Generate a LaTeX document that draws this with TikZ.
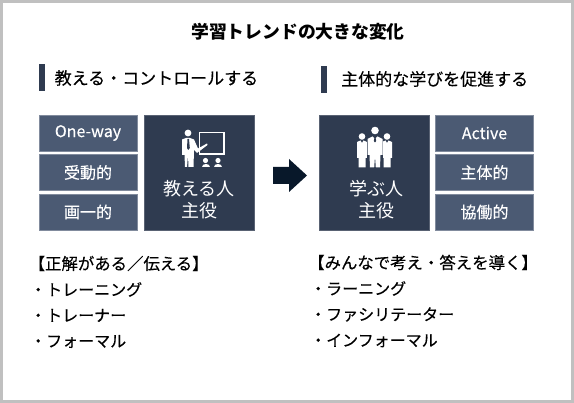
\documentclass[tikz,border=0pt]{standalone}
\usepackage{fontspec}
\setmainfont{Noto Sans CJK JP}
\newfontfamily\medfont{Noto Sans CJK JP}[FakeBold=0.3]
\usetikzlibrary{positioning}
\definecolor{DarkNavy}{RGB}{47,59,80}
\definecolor{SlateBlue}{RGB}{75,90,115}
\definecolor{ArrowNavy}{RGB}{8,24,42}
\definecolor{FrameGray}{RGB}{192,192,192}
\tikzset{
    minibox/.style={fill=SlateBlue, draw=SlateBlue!70!white, line width=0.6pt, text=white, minimum width=98pt, minimum height=36pt, inner sep=0pt, font=\medfont\fontsize{16}{19}\selectfont},
    mainbox/.style={fill=DarkNavy, draw=DarkNavy!80!white, line width=0.6pt, text=white, minimum width=110pt, minimum height=115pt, inner sep=0pt},
    maintext/.style={text=white, align=center, font=\fontsize{18}{22}\selectfont},
    headbar/.style={fill=DarkNavy, inner sep=0pt, minimum width=6pt, minimum height=27pt},
    headtext/.style={anchor=west, inner sep=0pt, font=\medfont\fontsize{17}{20}\selectfont},
    listtext/.style={anchor=west, inner sep=0pt, font=\medfont\fontsize{16}{19}\selectfont}
}
\begin{document}
\begin{tikzpicture}[x=1pt, y=-1pt]
    % Page and frame
    \useasboundingbox (0,0) rectangle (574,403);
    \fill[white] (0,0) rectangle (574,403);
    \draw[FrameGray, line width=3pt] (1.5,1.5) rectangle (572.5,401.5);

    % Title
    \node[inner sep=0pt, font=\fontsize{17.8}{21}\selectfont\bfseries] (title) at (298,32) {学習トレンドの大きな変化};

    % Left heading
    \node[headbar] (barL) at (42,78) {};
    \node[headtext] (headL) at (54.5,78) {教える・コントロールする};

    % Right heading
    \node[headbar] (barR) at (324,79.5) {};
    \node[headtext] (headR) at (341,79) {主体的な学びを促進する};

    % Left boxes
    \node[minibox] (oneway) at (88,133) {One-way};
    \node[minibox] (passive) at (88,172.5) {受動的};
    \node[minibox] (uniform) at (88,212) {画一的};
    \node[mainbox] (teach) at (199,172.5) {};

    % Right boxes
    \node[mainbox] (learn) at (374.5,172.5) {};
    \node[minibox] (active) at (484.5,133) {Active};
    \node[minibox] (subject) at (484.5,172.5) {主体的};
    \node[minibox] (collab) at (484.5,212) {協働的};

    % Box captions
    \node[maintext] (teachtext) at (199,199.5) {教える人\\主役};
    \node[maintext] (learntext) at (376,199.5) {学ぶ人\\主役};

    % Teacher icon: person
    \fill[white] (188,133) circle (3.4);
    \fill[white] (182,139.5) -- (186,138) -- (190,138) -- (194,139.5) -- (198,148.5) -- (207,143.5) -- (207.5,145) -- (197,153) -- (194,150)
        -- (193.5,167) -- (188.5,167) -- (188,155) -- (187,167) -- (185,167) -- (184.5,155) -- (182,155) -- cycle;
    \fill[DarkNavy] (187.5,139) -- (189,139) -- (189.8,148) -- (188.2,150) -- (187,148) -- cycle;
    % Teacher icon: board
    \draw[white, line width=1.3pt] (199.5,132.5) rectangle (224,154);
    % Teacher icon: pupils
    \foreach \px in {205.5,218} {
        \fill[white] (\px,160.5) circle (2.6);
        \fill[white] (\px-4,167.5) .. controls (\px-4,163.5) and (\px+4,163.5) .. (\px+4,167.5) -- cycle;
    }

    % Group icon: side people
    \foreach \px in {362,387} {
        \fill[white] (\px,136.5) circle (3.3);
        \fill[white] (\px-5,142) -- (\px-1.5,140.5) -- (\px,143) -- (\px+1.5,140.5) -- (\px+5,142) -- (\px+5,158) -- (\px+3.5,158) -- (\px+3.5,167.5)
            -- (\px-3.5,167.5) -- (\px-3.5,158) -- (\px-5,158) -- cycle;
    }
    % Group icon: centre person
    \fill[DarkNavy] (366.5,138) rectangle (382.5,168);
    \fill[white] (375,130.5) circle (3.8);
    \fill[white] (367.5,139) -- (372.5,136.5) -- (375,139) -- (377.5,136.5) -- (382.5,139) -- (382.5,155) -- (380.5,155) -- (380,167.5)
        -- (375.8,167.5) -- (375,156) -- (374.2,167.5) -- (370,167.5) -- (369.5,155) -- (367.5,155) -- cycle;
    \fill[DarkNavy] (374.4,138) -- (375.6,138) -- (376.2,141) -- (375,142.5) -- (373.8,141) -- cycle;

    % Arrow between the two sides
    \fill[ArrowNavy] (273,167) -- (289,167) -- (289,159) -- (307,175.5) -- (289,192) -- (289,184) -- (273,184) -- cycle;

    % Left list
    \node[listtext, font=\medfont\fontsize{16.4}{19}\selectfont] (listL0) at (28.5,263.5) {【正解がある／伝える】};
    \node[listtext] (listL1) at (30,289.5) {・トレーニング};
    \node[listtext] (listL2) at (30,315.5) {・トレーナー};
    \node[listtext] (listL3) at (30,341.5) {・フォーマル};

    % Right list
    \node[listtext, font=\medfont\fontsize{16.4}{19}\selectfont] (listR0) at (308,262.5) {【みんなで考え・答えを導く】};
    \node[listtext] (listR1) at (310,288.5) {・ラーニング};
    \node[listtext] (listR2) at (310,314.5) {・ファシリテーター};
    \node[listtext] (listR3) at (310,340.5) {・インフォーマル};
\end{tikzpicture}
\end{document}
